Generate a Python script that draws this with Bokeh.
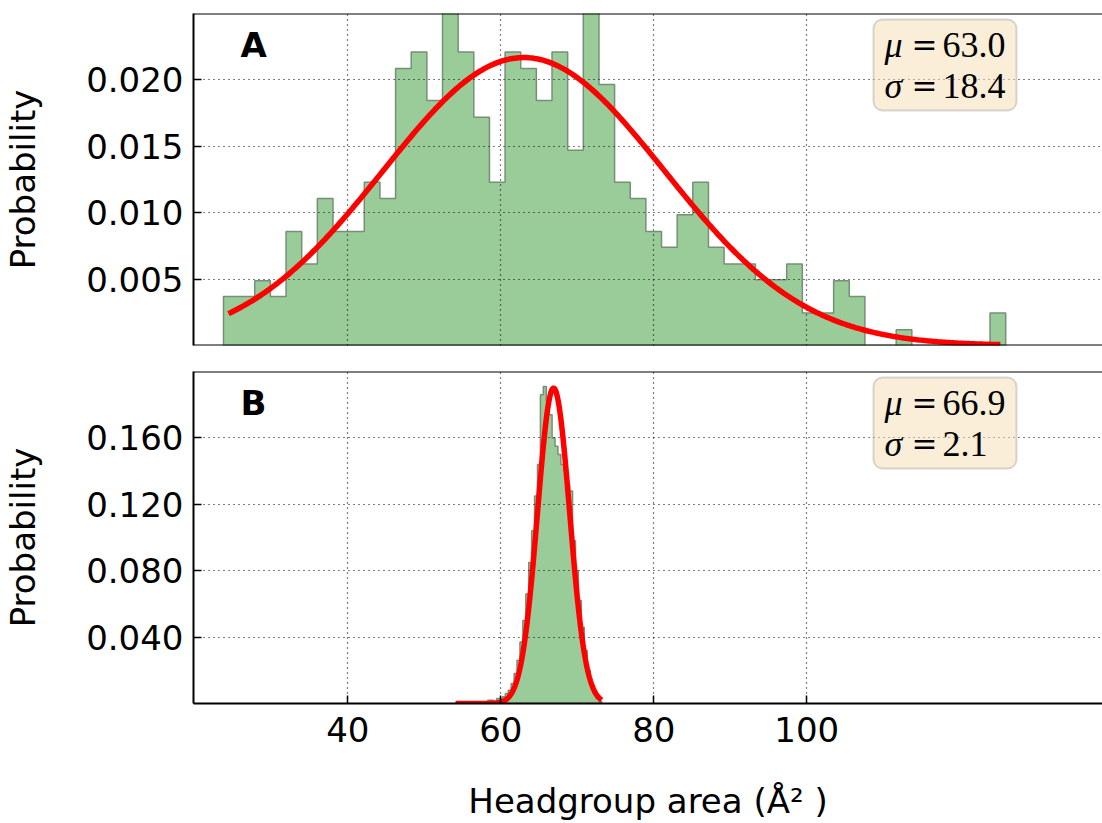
import numpy as np
from bokeh.plotting import figure
from bokeh.layouts import column
from bokeh.models import (Range1d, FixedTicker, PrintfTickFormatter, Span,
                          BoxAnnotation, Label)
from bokeh.embed import file_html
from bokeh.resources import INLINE

# ---------------- data ----------------
a_bin_start = 23.75
a_bin_width = 2.045
a_heights = [0.00369, 0.00369, 0.00488, 0.00369, 0.00859, 0.00613, 0.01106, 0.00859, 0.00859, 0.01229,
             0.01106, 0.02086, 0.02211, 0.01845, 0.02700, 0.02211, 0.01719, 0.01229, 0.02211, 0.02086,
             0.01845, 0.02211, 0.01470, 0.02700, 0.01965, 0.01229, 0.01106, 0.00859, 0.00739, 0.00985,
             0.01229, 0.00739, 0.00613, 0.00613, 0.00495, 0.00495, 0.00613, 0.00244, 0.00244, 0.00488,
             0.00369, 0.0, 0.0, 0.00118, 0.0, 0.0, 0.0, 0.0, 0.0, 0.00244]
a_mu, a_sigma = 63.0, 18.4
a_fit_range = [24.4, 125.3]

b_bin_start = 54.1
b_bin_width = 0.382
b_heights = [0.0005, 0.0, 0.0, 0.0, 0.0, 0.0, 0.0, 0.0, 0.0, 0.0,
             0.0005, 0.002, 0.002, 0.001, 0.003, 0.003, 0.004, 0.006, 0.008, 0.012,
             0.018, 0.026, 0.037, 0.050, 0.066, 0.085, 0.104, 0.125, 0.144, 0.186,
             0.191, 0.182, 0.174, 0.160, 0.155, 0.150, 0.144, 0.140, 0.132, 0.128,
             0.098, 0.080, 0.062, 0.046, 0.032, 0.020, 0.012, 0.006, 0.003, 0.001]
b_mu, b_sigma = 66.9, 2.1
b_fit_range = [54.1, 73.2]

x_ticks = [40, 60, 80, 100]
a_yticks = [0.005, 0.010, 0.015, 0.020]
b_yticks = [0.04, 0.08, 0.12, 0.16]
panel_labels = ["A", "B"]

# ---------------- layout constants ----------------
FRAME_L, FRAME_R = 193, 1102
X0 = 19.83
X1 = X0 + (FRAME_R - FRAME_L) / 7.65
FONT = "DejaVu Sans"
FS = "34px"
LBL_SHIFT = 13  # label baseline correction (px)


def px_x(px):
    return X0 + (px - FRAME_L) / (FRAME_R - FRAME_L) * (X1 - X0)


def step_patch(start, width, heights):
    edges = start + width * np.arange(len(heights) + 1)
    xs, ys = [edges[0]], [0.0]
    for i, h in enumerate(heights):
        xs += [edges[i], edges[i + 1]]
        ys += [h, h]
    xs.append(edges[-1])
    ys.append(0.0)
    return xs, ys


def gauss(mu, sigma, lo, hi):
    x = np.linspace(lo, hi, 400)
    y = np.exp(-0.5 * ((x - mu) / sigma) ** 2) / (sigma * np.sqrt(2 * np.pi))
    return x, y


def style_axis(ax, ticks, fmt):
    ax.ticker = FixedTicker(ticks=ticks)
    ax.formatter = PrintfTickFormatter(format=fmt)
    ax.axis_line_width = 2
    ax.axis_line_color = "black"
    ax.major_tick_in = 8
    ax.major_tick_out = 0
    ax.major_tick_line_width = 1.5
    ax.major_tick_line_color = "black"
    ax.minor_tick_line_color = None
    ax.major_label_text_font = FONT
    ax.major_label_text_color = "black"
    ax.major_label_text_font_size = FS
    ax.axis_label_text_font = FONT
    ax.axis_label_text_font_size = FS
    ax.axis_label_text_font_style = "normal"
    ax.axis_label_text_color = "black"


def make_fig(height, ymax, yticks, top, bottom, show_x):
    p = figure(width=1102, height=height, x_range=Range1d(X0, X1), y_range=Range1d(0, ymax),
               output_backend="svg", toolbar_location=None,
               min_border_left=FRAME_L, min_border_right=0, min_border_top=top, min_border_bottom=bottom)
    p.outline_line_color = None
    p.background_fill_color = "white"
    p.border_fill_color = "white"
    style_axis(p.yaxis[0], yticks, "%.3f")
    p.yaxis.major_label_standoff = 10
    p.yaxis.axis_label = "Probability"
    p.yaxis.axis_label_standoff = 40
    if show_x:
        style_axis(p.xaxis[0], x_ticks, "%d")
        p.xaxis.major_label_standoff = 13
        p.xaxis.axis_label = "Headgroup area (Å² )"
        p.xaxis.axis_label_standoff = 36
    else:
        p.xaxis.visible = False
        p.add_layout(Span(location=0, dimension="width", line_color="black", line_width=2))
    p.add_layout(Span(location=ymax, dimension="width", line_color="black", line_width=2))
    for g, t in ((p.xgrid, x_ticks), (p.ygrid, yticks)):
        g.ticker = FixedTicker(ticks=t)
        g.grid_line_color = "black"
        g.grid_line_dash = "1 4"
        g.grid_line_width = 1.2
        g.grid_line_alpha = 1.0
    return p


def add_panel(p, start, width, heights, mu, sigma, fit_range, py, letter, ytop_px):
    xs, ys = step_patch(start, width, heights)
    r = p.patch(xs, ys, fill_color="#99cc99", line_color="#778f77", line_width=1.5)
    r.level = "image"
    fx, fy = gauss(mu, sigma, fit_range[0], fit_range[1])
    p.line(fx, fy, line_color="#ff0000", line_width=5.5)
    p.add_layout(Label(x=px_x(240), y=py(ytop_px + 44 - LBL_SHIFT), text=letter, text_font=FONT,
                       text_font_size=FS, text_font_style="bold", text_color="black",
                       text_baseline="alphabetic"))
    p.add_layout(BoxAnnotation(left=px_x(873), right=px_x(1016), top=py(ytop_px + 6),
                               bottom=py(ytop_px + 97), fill_color="#f5deb3", fill_alpha=0.5,
                               line_color="#808080", line_width=2, border_radius=9))
    rows = [("μ", f"{mu:.1f}", ytop_px + 44), ("σ", f"{sigma:.1f}", ytop_px + 85)]
    for sym, val, base in rows:
        yb = py(base - LBL_SHIFT)
        p.add_layout(Label(x=px_x(884), y=yb, text=sym, text_font="Liberation Serif",
                           text_font_size="36px", text_font_style="italic", text_color="black",
                           text_baseline="alphabetic"))
        p.add_layout(Label(x=px_x(911), y=yb, text="=", text_font="DejaVu Serif",
                           text_font_size="31px", text_color="black", text_baseline="alphabetic"))
        p.add_layout(Label(x=px_x(942), y=yb, text=val, text_font="Liberation Serif",
                           text_font_size="36px", text_color="black", text_baseline="alphabetic"))


# top panel: frame 13..345 (page px)
p1 = make_fig(358, 0.025, a_yticks, 13, 13, False)
add_panel(p1, a_bin_start, a_bin_width, a_heights, a_mu, a_sigma, a_fit_range,
          lambda py: (345 - py) / 332 * 0.025, panel_labels[0], 13)

# bottom panel: frame 371..703 (page px)
p2 = make_fig(465, 0.2, b_yticks, 13, 0, True)
add_panel(p2, b_bin_start, b_bin_width, b_heights, b_mu, b_sigma, b_fit_range,
          lambda py: (703 - py) / 332 * 0.2, panel_labels[1], 371)

layout = column(p1, p2, spacing=0)
open("out.html", "w").write(file_html(layout, INLINE))
